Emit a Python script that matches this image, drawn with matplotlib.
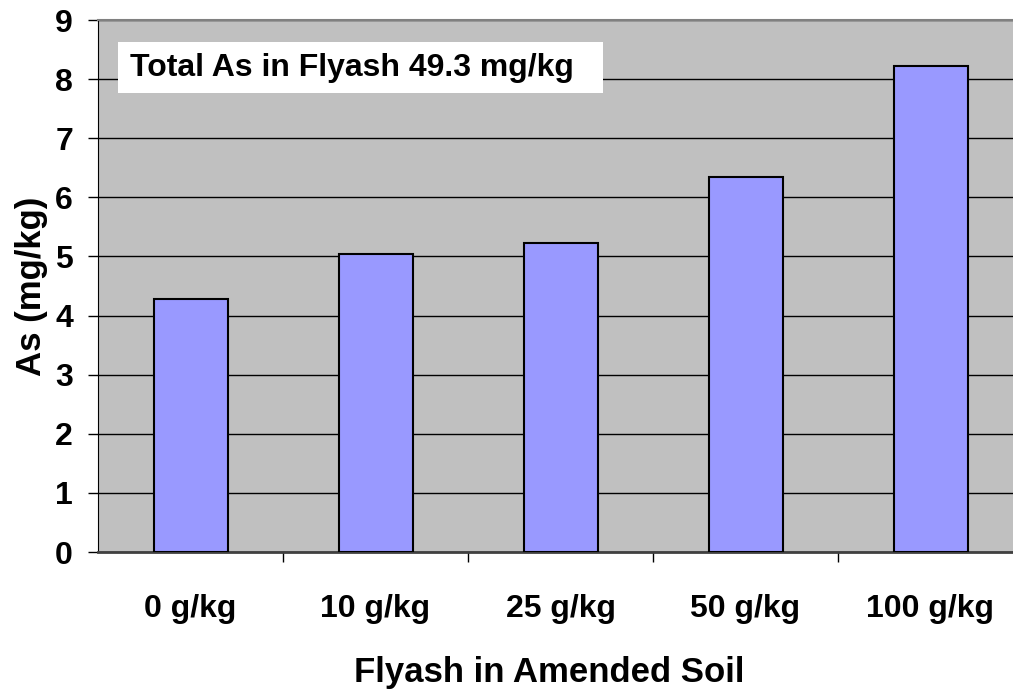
import matplotlib
matplotlib.use('Agg')
import matplotlib.pyplot as plt
from matplotlib.patches import Rectangle

categories = ['0 g/kg', '10 g/kg', '25 g/kg', '50 g/kg', '100 g/kg']
as_values = [4.28, 5.04, 5.22, 6.35, 8.23]
y_ticks = [0, 1, 2, 3, 4, 5, 6, 7, 8, 9]

plt.rcParams['font.family'] = ['Liberation Sans', 'DejaVu Sans']
plt.rcParams['font.weight'] = 'bold'

fig = plt.figure(figsize=(10.13, 6.96), dpi=100)
ax = fig.add_axes([98 / 1013, 144 / 696, 925 / 1013, 532 / 696])
ax.set_facecolor('#C0C0C0')

x = list(range(len(categories)))
ax.bar(x, as_values, width=0.4, color='#9999FF', edgecolor='black', linewidth=1.5, zorder=3)

ax.set_xlim(-0.5, len(categories) - 0.5)
ax.set_ylim(0, 9)
ax.set_yticks(y_ticks)
ax.yaxis.grid(True, color='black', linewidth=1, zorder=1)
ax.set_axisbelow(True)

# category boundaries get the tick marks, labels sit in the middle
ax.set_xticks([i + 0.5 for i in x[:-1]])
ax.set_xticklabels([])
ax.set_xticks(x, minor=True)
ax.set_xticklabels(categories, minor=True, fontsize=23, fontweight='bold')
ax.tick_params(axis='x', which='minor', length=0, pad=30)
ax.tick_params(axis='x', which='major', length=7, width=1, color='black')
ax.tick_params(axis='y', length=7, width=1, pad=11, labelsize=23)

for lab in ax.get_yticklabels():
    lab.set_fontweight('bold')

ax.spines['top'].set_color('#808080')
ax.spines['top'].set_linewidth(1.5)
ax.spines['right'].set_visible(False)
ax.spines['left'].set_color('black')
ax.spines['bottom'].set_color('#404040')
ax.spines['bottom'].set_linewidth(2)

ax.set_xlabel('Flyash in Amended Soil', fontsize=25, fontweight='bold')
ax.xaxis.set_label_coords(0.4876, -0.196)
ax.set_ylabel('As (mg/kg)', fontsize=25, fontweight='bold', labelpad=5)

ax.add_patch(Rectangle((0.0216, 0.8628), 0.524, 0.0959, transform=ax.transAxes,
                       facecolor='white', edgecolor='none', zorder=5))
ax.text(0.0346, 0.9107, 'Total As in Flyash 49.3 mg/kg', transform=ax.transAxes,
        fontsize=23, fontweight='bold', va='center', ha='left', zorder=6)

fig.savefig('out.png', dpi=100)
